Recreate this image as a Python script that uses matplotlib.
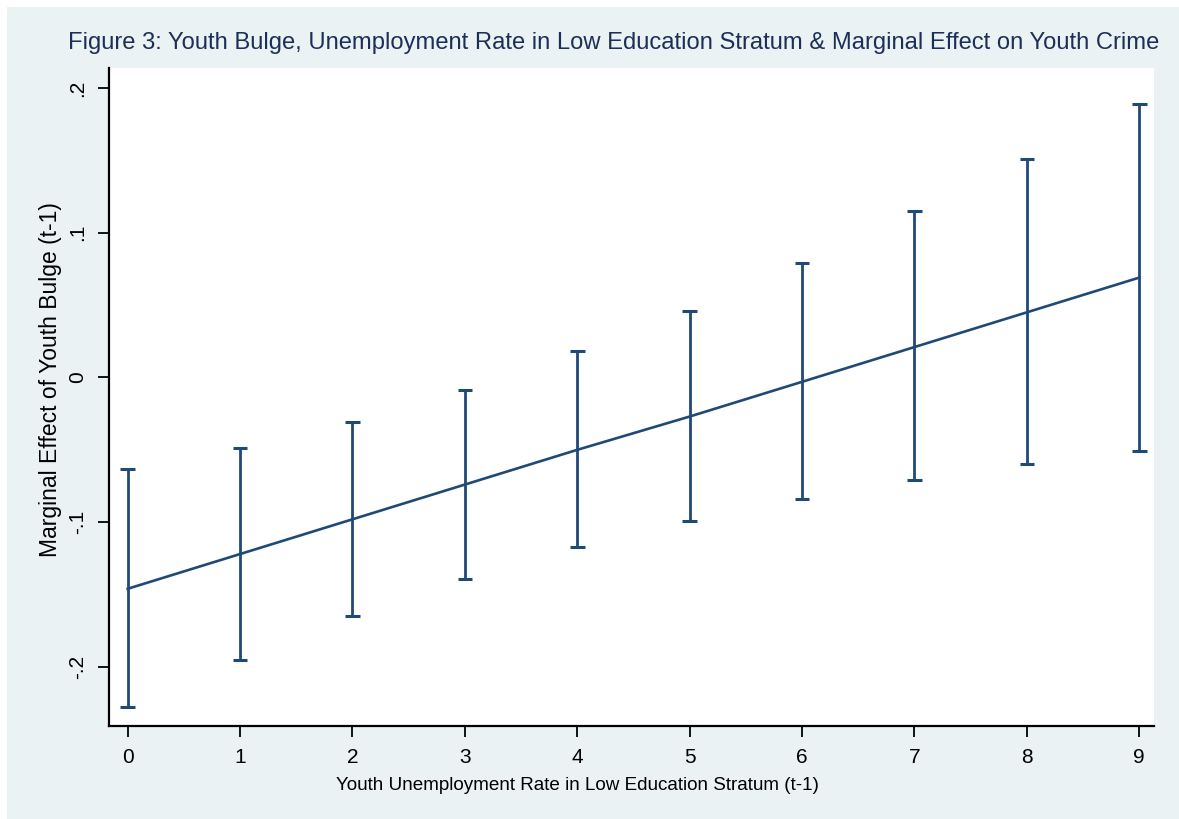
import numpy as np
import matplotlib.pyplot as plt
from matplotlib.patches import Rectangle

# Marginal effect of youth bulge at each unemployment level, with 95% CI bounds
unemp_rate = [0, 1, 2, 3, 4, 5, 6, 7, 8, 9]
marg_effect = [-0.146, -0.122, -0.098, -0.074, -0.050, -0.027, -0.003, 0.021, 0.045, 0.069]
ci_upper = [-0.063, -0.049, -0.031, -0.009, 0.018, 0.046, 0.079, 0.115, 0.151, 0.189]
ci_lower = [-0.228, -0.195, -0.165, -0.139, -0.117, -0.099, -0.084, -0.071, -0.060, -0.051]

y_ticks = [-0.2, -0.1, 0, 0.1, 0.2]
y_ticklabels = ['-.2', '-.1', '0', '.1', '.2']

navy = '#1f4a78'
bg = '#eaf2f3'

plt.rcParams['font.family'] = ['Liberation Sans', 'DejaVu Sans']

fig = plt.figure(figsize=(11.79, 8.19), dpi=100)
fig.patch.set_facecolor('white')
# graph region background (Stata s2color style)
fig.patches.append(Rectangle((7 / 1179, 0), 1 - 7 / 1179, 1 - 7 / 819,
                             transform=fig.transFigure, facecolor=bg,
                             edgecolor='none', zorder=-10))

ax = fig.add_axes([109 / 1179, 1 - 726 / 819, (1154 - 109) / 1179, (726 - 68) / 819])
ax.set_zorder(5)
ax.set_facecolor('white')

x = np.array(unemp_rate)
lo = np.array(ci_lower)
hi = np.array(ci_upper)
ax.vlines(x, lo, hi, color=navy, linewidth=2.0)
cap = 0.065
ax.hlines(lo, x - cap, x + cap, color=navy, linewidth=2.2)
ax.hlines(hi, x - cap, x + cap, color=navy, linewidth=2.2)
ax.plot(x, marg_effect, color=navy, linewidth=1.9)

ax.set_xlim(-0.166, 9.131)
ax.set_ylim(-0.2408, 0.2138)

ax.set_xticks(unemp_rate)
ax.set_yticks(y_ticks)
ax.set_yticklabels(y_ticklabels, rotation=90, va='center')
ax.tick_params(axis='both', length=8, width=1.3, color='black', labelsize=15)
ax.tick_params(axis='x', pad=8)
ax.tick_params(axis='y', pad=8)

for side in ['top', 'right']:
    ax.spines[side].set_visible(False)
for side in ['left', 'bottom']:
    ax.spines[side].set_linewidth(1.6)

ax.set_xlabel('Youth Unemployment Rate in Low Education Stratum (t-1)',
              fontsize=13.6)
ax.xaxis.set_label_coords(0.448, -0.078)
ax.set_ylabel('Marginal Effect of Youth Bulge (t-1)', fontsize=16.5)
ax.yaxis.set_label_coords(-0.045, 0.526)

fig.text(68 / 1179, 1 - 43 / 819,
         'Figure 3: Youth Bulge, Unemployment Rate in Low Education Stratum '
         '& Marginal Effect on Youth Crime',
         fontsize=17.1, color='#1c2f57', ha='left', va='center')

fig.savefig('out.png', dpi=100)
